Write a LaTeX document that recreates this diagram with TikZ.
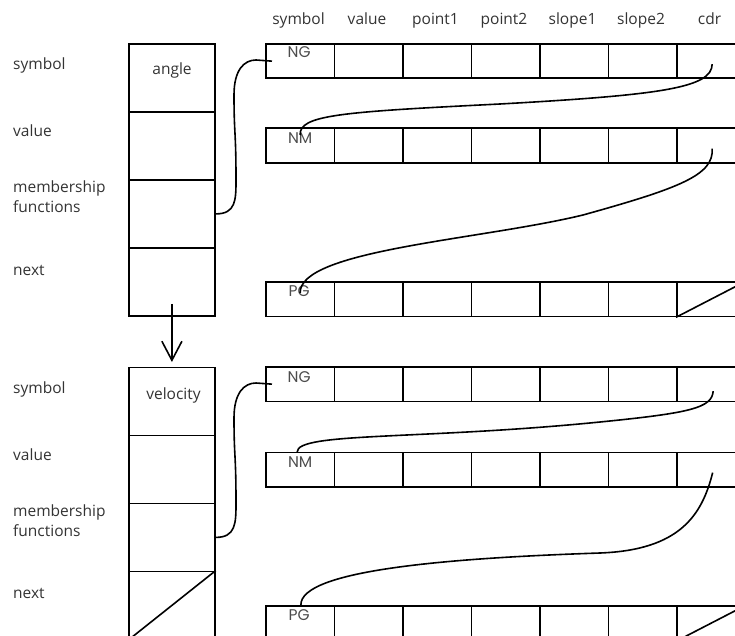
\documentclass[tikz,border=0pt]{standalone}
\usepackage{fontspec}
\setmainfont{Open Sans}
\newfontfamily\cellfont{Poppins}
\usetikzlibrary{arrows.meta,calc}
\begin{document}
\begin{tikzpicture}[x=1pt,y=-1pt,
  box/.style={draw=black, line width=1.8pt, rectangle, inner sep=0pt, minimum width=86pt, minimum height=68pt, anchor=north west},
  cell/.style={draw=black, line width=1.8pt, rectangle, inner sep=0pt, minimum width=68.5pt, minimum height=34.5pt, anchor=north west},
  lbl/.style={anchor=base west, font=\fontsize{15.5}{17}\selectfont, text=black!80, inner sep=0pt},
  hdr/.style={anchor=base, font=\fontsize{15.5}{17}\selectfont, text=black!80, inner sep=0pt},
  boxtext/.style={anchor=base, font=\fontsize{15.5}{17}\selectfont, text=black!80, inner sep=0pt},
  celltext/.style={anchor=base, font=\cellfont\fontsize{15.5}{17}\selectfont, text=black!70, inner sep=0pt},
  link/.style={draw=black, line width=1.6pt},
  nil/.style={draw=black, line width=1.6pt},
]
\useasboundingbox (0,0) rectangle (735,636);
\clip (0,0) rectangle (735,636);

% left column boxes
\foreach \i/\y in {1/43,2/111,3/179,4/247,5/366.5,6/434.5,7/502.5,8/570.5}
  \node[box] (a\i) at (128,\y) {};

% rows of cells
\foreach \ri/\y in {1/43,2/127.5,3/281,4/366,5/451.5,6/605}
  \foreach \ci in {1,...,7}
    \node[cell] (r\ri c\ci) at ({265+(\ci-1)*68.5},\y) {};

% header
\foreach \t [count=\i] in {symbol,value,point1,point2,slope1,slope2,cdr}
  \node[hdr] (h\i) at ({298.5+(\i-1)*68.5},25) {\t};

% left labels
\node[lbl] (l1) at (13,70) {symbol};
\node[lbl] (l2) at (13,137) {value};
\node[lbl] (l3) at (13,193) {membership};
\node[lbl] (l4) at (13,213) {functions};
\node[lbl] (l5) at (13,275) {next};
\node[lbl] (l6) at (13,393) {symbol};
\node[lbl] (l7) at (13,460) {value};
\node[lbl] (l8) at (13,516) {membership};
\node[lbl] (l9) at (13,536) {functions};
\node[lbl] (l10) at (13,598) {next};

% texts in boxes
\node[boxtext] (t1) at (172,75) {angle};
\node[boxtext] (t2) at (173.5,399) {velocity};

% texts in cells
\node[celltext] (c1) at ($(r1c1.north)+(-1,15)$) {NG};
\node[celltext] (c2) at ($(r2c1.north)+(0,16)$) {NM};
\node[celltext] (c3) at ($(r3c1.north)+(-1,15)$) {PG};
\node[celltext] (c4) at ($(r4c1.north)+(-1,16)$) {NG};
\node[celltext] (c5) at ($(r5c1.north)+(0,16)$) {NM};
\node[celltext] (c6) at ($(r6c1.north)+(-1,15)$) {PG};

% nil diagonals
\draw[nil] (r3c7.south west) -- (r3c7.north east);
\draw[nil] (r6c7.south west) -- (r6c7.north east);
\draw[nil] (a8.south west) -- (a8.north east);

% next arrow
\draw[link, -{Straight Barb[length=19pt,width=20pt]}] ($(a4.south)+(0,-13)$) -- ($(a5.north)+(0,-4.5)$);

% membership links
\draw[link] (a3.east) .. controls +(20,0) and +(0,20) .. (236,180)
  .. controls +(0,-50) and +(0,40) .. (234,95)
  .. controls +(0,-25) and +(-12,0) .. (256,60) -- ($(r1c1.west)+(7,0)$);
\draw[link] (a7.east) .. controls +(20,0) and +(0,20) .. (236,503)
  .. controls +(0,-50) and +(0,40) .. (234,418)
  .. controls +(0,-25) and +(-12,0) .. (256,383) -- ($(r4c1.west)+(7,0)$);

% cdr links, upper list
\draw[link] ($(r1c7.center)+(1,3)$) .. controls (712,88) and (660,95) .. (500,104)
  .. controls (340,112) and (299,115) .. ($(r2c1.north)+(0,7.5)$);
\draw[link] ($(r2c7.center)+(1,3)$) .. controls (714,175) and (680,188) .. (583,215)
  .. controls (480,240) and (299,250) .. ($(r3c1.north)+(0,12)$);

% cdr links, lower list
\draw[link] ($(r4c7.center)+(2,7)$) .. controls (712,408) and (690,413) .. (600,422)
  .. controls (420,440) and (297,432) .. ($(r5c1.north)+(-3,0.5)$);
\draw[link] ($(r5c7.center)+(1.5,3)$) .. controls (702,515) and (680,550) .. (600,553)
  .. controls (450,558) and (300,570) .. ($(r6c1.north)+(0.75,0)$);
\end{tikzpicture}
\end{document}
